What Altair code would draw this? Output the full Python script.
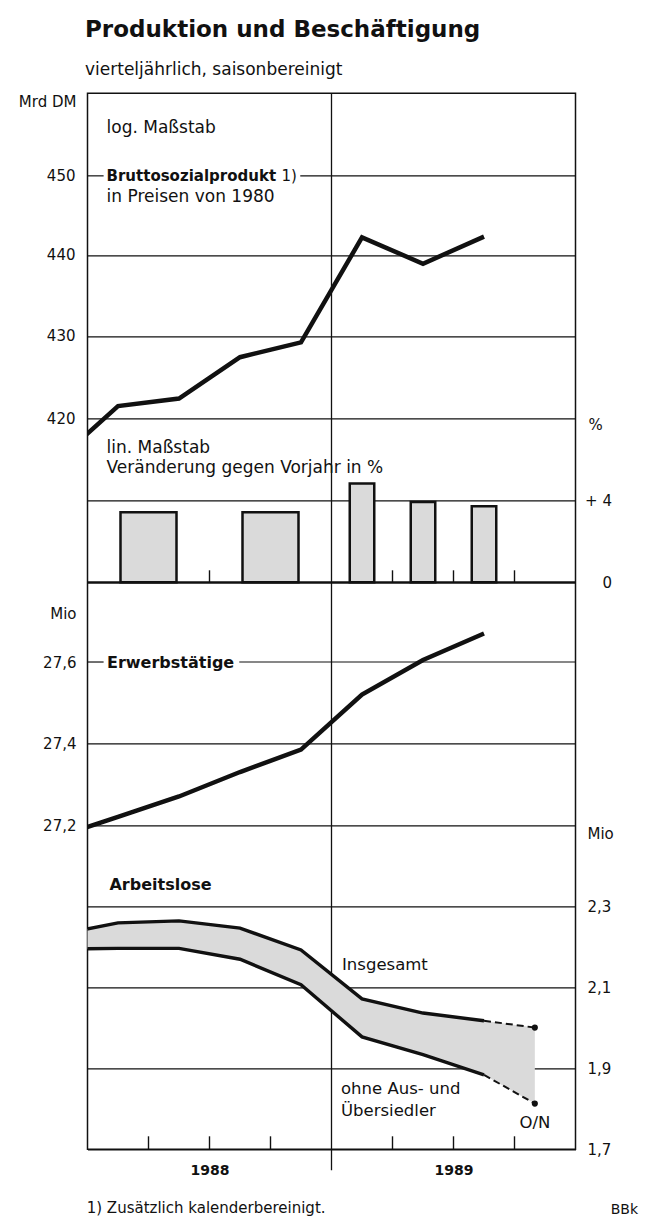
import altair as alt
import pandas as pd

# ---------------- data ----------------
quarters = ["1987-Q4", "1988-Q1", "1988-Q2", "1988-Q3", "1988-Q4", "1989-Q1", "1989-Q2", "1989-Q3"]
gnp = [415.0, 421.5, 422.4, 427.4, 429.2, 442.2, 438.9, 442.3]          # Mrd DM, log scale
employed = [27.17, 27.22, 27.27, 27.33, 27.385, 27.52, 27.605, 27.67]    # Mio
unemployed_total = [2.23, 2.26, 2.265, 2.247, 2.193, 2.072, 2.037, 2.018]  # Mio
unemployed_excl = [2.195, 2.197, 2.197, 2.17, 2.107, 1.978, 1.934, 1.884]  # Mio
latest_period = "1989-ON"
latest_label = "O/N"
unemployed_total_latest = 2.001
unemployed_excl_latest = 1.813
growth_half_periods = ["1988-H1", "1988-H2"]
growth_half = [3.4, 3.4]
growth_q_periods = ["1989-Q1", "1989-Q2", "1989-Q3"]
growth_q = [4.8, 3.9, 3.7]
years = [1988, 1989]
gnp_ticks = [420, 430, 440, 450]
growth_ticks = [0, 4]
employed_ticks = [27.2, 27.4, 27.6]
unemployed_ticks = [1.7, 1.9, 2.1, 2.3]

TITLE = "Produktion und Beschäftigung"
SUBTITLE = "vierteljährlich, saisonbereinigt"
FOOTNOTE = "1) Zusätzlich kalenderbereinigt."
SOURCE = "BBk"


def period_pos(p):
    y, s = p.split("-")
    y = int(y)
    if s.startswith("Q"):
        return y + (int(s[1]) - 0.5) / 4
    if s.startswith("H"):
        return y + (int(s[1]) - 0.5) / 2
    return y + 10 / 12  # Oktober/November


x_q = [period_pos(q) for q in quarters]
x_latest = period_pos(latest_period)
boundaries = [y + k / 4 for y in years for k in (1, 2, 3)]

# ---------------- layout / style ----------------
W, H = 488, 1056
FONT = "DejaVu Sans"
INK = "#111111"
STIP = "#dadada"

XS = alt.Scale(domain=[years[0], years[-1] + 1], nice=False, zero=False, padding=0)
YG = alt.Scale(type="log", domain=[341.26, 460.68], nice=False)
YB = alt.Scale(domain=[-27.558, 23.767], nice=False, zero=False)
YE = alt.Scale(domain=[26.4042, 28.9956], nice=False, zero=False)
YU = alt.Scale(domain=[1.7, 4.3117], nice=False, zero=False)

# grid lines that carry a series name are drawn in two pieces (left stub, right part)
LABELLED_GRID = {
    "gnp": (450, [(1988.0, 1988.066), (1988.872, 1990.0)]),
    "emp": (27.6, [(1988.0, 1988.066), (1988.622, 1990.0)]),
}

XAX = alt.Axis(values=[y + 0.5 for y in years], labelExpr="format(floor(datum.value), 'd')",
               title=None, grid=False, ticks=False, domain=False, labelFontWeight="bold",
               labelFontSize=14, labelPadding=24.7, labelBaseline="alphabetic")

AX_GNP = alt.Axis(orient="left", values=gnp_ticks, labelExpr="format(datum.value, 'd')",
                  labelPadding=12.5, grid=True,
                  gridOpacity=alt.condition(f"datum.value == {LABELLED_GRID['gnp'][0]}",
                                            alt.value(0), alt.value(1)),
                  title="Mrd DM", titleAngle=0, titleAlign="right",
                  titleBaseline="alphabetic", titleX=-11.5, titleY=13.4)
AX_BAR = alt.Axis(orient="right", values=growth_ticks,
                  labelExpr="datum.value > 0 ? '+ ' + format(datum.value, 'd') : '0'",
                  labelAlign="right", labelPadding=36, grid=True, title="%", titleAngle=0,
                  titleAlign="left", titleBaseline="alphabetic", titleX=12.5, titleY=335.7)
AX_EMP = alt.Axis(orient="left", values=employed_ticks,
                  labelExpr="replace(format(datum.value, '.1f'), '.', ',')",
                  labelPadding=11.5, grid=True,
                  gridOpacity=alt.condition(f"datum.value == {LABELLED_GRID['emp'][0]}",
                                            alt.value(0), alt.value(1)),
                  title="Mio", titleAngle=0, titleAlign="right",
                  titleBaseline="alphabetic", titleX=-11.5, titleY=525)
AX_UNE = alt.Axis(orient="right", values=unemployed_ticks,
                  labelExpr="replace(format(datum.value, '.1f'), '.', ',')",
                  labelAlign="left", labelPadding=11.5, grid=True, title="Mio", titleAngle=0,
                  titleAlign="left", titleBaseline="alphabetic", titleX=11.5, titleY=745)


def xenc(field="x"):
    return alt.X(f"{field}:Q", scale=XS, axis=XAX)


df_q = pd.DataFrame({"x": x_q, "gnp": gnp, "emp": employed,
                     "tot": unemployed_total, "excl": unemployed_excl})
df_latest = pd.DataFrame({"x": [x_q[-1], x_latest],
                          "tot": [unemployed_total[-1], unemployed_total_latest],
                          "excl": [unemployed_excl[-1], unemployed_excl_latest]})
df_band = pd.concat([df_q[["x", "tot", "excl"]], df_latest.iloc[[1]]], ignore_index=True)
df_end = df_latest.iloc[[1]]

layers = []

# year divider
layers.append(alt.Chart(pd.DataFrame({"x": [float(years[1])]})).mark_rule(
    color=INK, strokeWidth=1.3).encode(x=xenc(), y=alt.value(0), y2=alt.value(H + 21)))

# interrupted grid lines
for key, scale in (("gnp", YG), ("emp", YE)):
    val, segs = LABELLED_GRID[key]
    dfg = pd.DataFrame({"x": [a for a, b in segs], "x2": [b for a, b in segs], "y": [val] * len(segs)})
    layers.append(alt.Chart(dfg).mark_rule(color=INK, strokeWidth=1.2).encode(
        x=xenc(), x2="x2:Q", y=alt.Y("y:Q", scale=scale, axis=None)))

# quarter ticks (bar baseline and bottom axis) - drawn under the bars
df_b = pd.DataFrame({"x": boundaries})
zero_px = 489.0
layers.append(alt.Chart(df_b).mark_rule(color=INK, strokeWidth=1.4).encode(
    x=xenc(), y=alt.value(zero_px - 12), y2=alt.value(zero_px)))
layers.append(alt.Chart(df_b).mark_rule(color=INK, strokeWidth=1.4).encode(
    x=xenc(), y=alt.value(H - 13), y2=alt.value(H)))

# unemployment band
layers.append(alt.Chart(df_band).mark_area(color=STIP, clip=True).encode(
    x=xenc(), y=alt.Y("excl:Q", scale=YU, axis=None), y2="tot:Q"))

# growth bars
layers.append(alt.Chart(pd.DataFrame({"x": [period_pos(p) for p in growth_half_periods],
                                      "v": growth_half})).mark_bar(
    width=56, fill=STIP, stroke=INK, strokeWidth=2.5).encode(
    x=xenc(), y=alt.Y("v:Q", scale=YB, axis=AX_BAR), y2=alt.datum(0)))
layers.append(alt.Chart(pd.DataFrame({"x": [period_pos(p) for p in growth_q_periods],
                                      "v": growth_q})).mark_bar(
    width=24.5, fill=STIP, stroke=INK, strokeWidth=2.5).encode(
    x=xenc(), y=alt.Y("v:Q", scale=YB, axis=None), y2=alt.datum(0)))

# zero line of the bar panel
layers.append(alt.Chart(pd.DataFrame({"v": [0]})).mark_rule(color=INK, strokeWidth=2.2).encode(
    y=alt.Y("v:Q", scale=YB, axis=None)))

# lines
layers.append(alt.Chart(df_q).mark_line(color=INK, strokeWidth=4.5, clip=True).encode(
    x=xenc(), y=alt.Y("gnp:Q", scale=YG, axis=AX_GNP)))
layers.append(alt.Chart(df_q).mark_line(color=INK, strokeWidth=4.5, clip=True).encode(
    x=xenc(), y=alt.Y("emp:Q", scale=YE, axis=AX_EMP)))
layers.append(alt.Chart(df_q).mark_line(color=INK, strokeWidth=3.4, clip=True).encode(
    x=xenc(), y=alt.Y("tot:Q", scale=YU, axis=AX_UNE)))
layers.append(alt.Chart(df_q).mark_line(color=INK, strokeWidth=3.4, clip=True).encode(
    x=xenc(), y=alt.Y("excl:Q", scale=YU, axis=None)))
for col in ("tot", "excl"):
    layers.append(alt.Chart(df_latest).mark_line(color=INK, strokeWidth=2, strokeDash=[7, 4]).encode(
        x=xenc(), y=alt.Y(f"{col}:Q", scale=YU, axis=None)))
    layers.append(alt.Chart(df_end).mark_point(filled=True, size=38, color=INK, opacity=1).encode(
        x=xenc(), y=alt.Y(f"{col}:Q", scale=YU, axis=None)))


# annotations anchored in data space
def label(text, x, y, scale, dy=0.0, dx=0.0, size=17, bold=False, align="left"):
    df = pd.DataFrame({"t": [text], "x": [x], "y": [y]})
    return alt.Chart(df).mark_text(
        color=INK, align=align, baseline="alphabetic", dx=dx, dy=dy, fontSize=size, font=FONT,
        fontWeight="bold" if bold else "normal").encode(
        x=xenc(), y=alt.Y("y:Q", scale=scale, axis=None), text="t:N")


ax0 = 1988.078
layers.append(label("log. Maßstab", ax0, 450, YG, dy=-42.5))
layers.append(label("Bruttosozialprodukt", ax0, 450, YG, dy=5.6, size=15, bold=True))
layers.append(label("1)", ax0, 450, YG, dy=5.6, dx=175, size=15))
layers.append(label("in Preisen von 1980", ax0, 450, YG, dy=25.9))
layers.append(label("lin. Maßstab", ax0, 4, YB, dy=-47.3))
layers.append(label("Veränderung gegen Vorjahr in %", ax0, 4, YB, dy=-26.7))
layers.append(label("Erwerbstätige", 1988.08, 27.6, YE, dy=5.8, size=16, bold=True))
layers.append(label("Arbeitslose", 1988.09, 2.3, YU, dy=-16.7, size=16, bold=True))
layers.append(label("Insgesamt", 1989.043, 2.1, YU, dy=-17.6, size=16.5))
layers.append(label("ohne Aus- und", 1989.039, 1.9, YU, dy=25.6, size=16.5))
layers.append(label("Übersiedler", 1989.039, 1.9, YU, dy=47.6, size=16.5))
layers.append(label(latest_label, x_latest, unemployed_excl_latest, YU, dy=24.7, size=16.5,
                    align="center"))


# title, subtitle, footnote, source
def free_text(text, x, y, size, bold=False, align="left"):
    return alt.Chart(pd.DataFrame({"t": [text]})).mark_text(
        align=align, baseline="alphabetic", font=FONT, fontSize=size,
        fontWeight="bold" if bold else "normal", color=INK).encode(
        x=alt.value(x), y=alt.value(y), text="t:N")


layers.append(free_text(TITLE, -2.5, -56, 23, bold=True))
layers.append(free_text(SUBTITLE, -2.5, -18.3, 17))
layers.append(free_text(FOOTNOTE, -0.8, 1119.7, 15))
layers.append(free_text(SOURCE, 550.5, 1120.7, 14, align="right"))

chart = alt.layer(*layers).resolve_scale(y="independent").properties(
    width=W, height=H,
    autosize=alt.AutoSizeParams(type="none"),
    padding={"left": 79.5, "top": 85.3, "right": 64.5, "bottom": 68.7},
    background="white",
).configure(font=FONT).configure_axis(
    labelFont=FONT, labelFontSize=15, labelColor=INK,
    titleFont=FONT, titleFontSize=15, titleFontWeight="normal", titleColor=INK,
    gridColor=INK, gridWidth=1.2, domain=False, ticks=False, tickSize=0,
).configure_view(stroke=INK, strokeWidth=1.5)

chart.save("out.html", embed_options={"renderer": "svg", "actions": False})
